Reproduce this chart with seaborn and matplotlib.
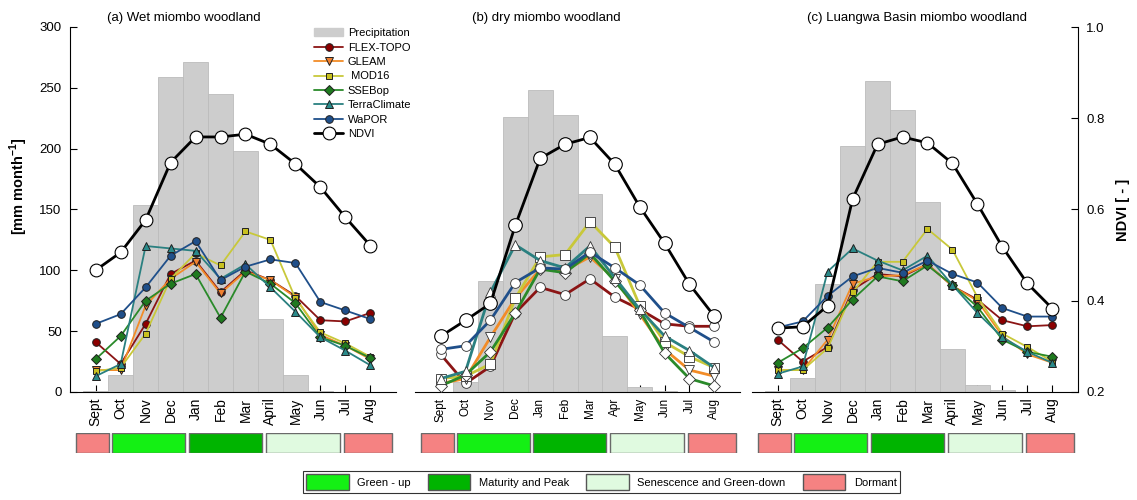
import numpy as np
import matplotlib
matplotlib.use("Agg")
import matplotlib.pyplot as plt
from matplotlib.patches import Patch, Rectangle
from matplotlib.lines import Line2D
import seaborn as sns

sns.set_theme(style="ticks")
plt.rcParams["font.family"] = ["Liberation Sans", "DejaVu Sans"]
plt.rcParams["mathtext.fontset"] = "custom"
plt.rcParams["mathtext.rm"] = "Liberation Sans"
plt.rcParams["mathtext.bf"] = "Liberation Sans:bold"
for key in ["text.color", "axes.labelcolor", "xtick.color", "ytick.color"]:
    plt.rcParams[key] = "black"

# ---------------------------------------------------------------- data
months_long = ["Sept", "Oct", "Nov", "Dec", "Jan", "Feb", "Mar", "April", "May", "Jun", "Jul", "Aug"]
months_short = ["Sept", "Oct", "Nov", "Dec", "Jan", "Feb", "Mar", "Apr", "May", "Jun", "Jul", "Aug"]

# monthly precipitation [mm month-1]
precip_wet = [1, 14, 154, 259, 271, 245, 198, 60, 14, 1, 0, 0]
precip_dry = [0, 8, 91, 226, 248, 228, 163, 46, 4, 0.5, 0, 0]
precip_lua = [1, 11.5, 88.5, 202, 256, 232, 156, 35, 6, 1.5, 0, 0]

# evaporation products [mm month-1]
flex_wet = [41, 23, 56, 97, 108, 82, 100, 92, 79, 59, 58, 65]
gleam_wet = [18, 18, 71, 93, 107, 81, 99, 92, 78, 47, 38, 27]
mod16_wet = [17, 20, 48, 93, 114, 104, 132, 125, 77, 49, 40, 29]
ssebop_wet = [27, 46, 75, 89, 97, 61, 99, 89, 73, 45, 38, 28]
terra_wet = [13, 23, 120, 118, 116, 93, 105, 86, 66, 45, 34, 22]
wapor_wet = [56, 64, 86, 112, 124, 92, 103, 109, 106, 74, 67, 60]

flex_dry = [31, 7, 21, 65, 86, 80, 93, 78, 68, 56, 54, 54]
gleam_dry = [7, 11, 45, 77, 101, 100, 111, 93, 64, 35, 18, 13]
mod16_dry = [11, 13, 23, 77, 111, 113, 140, 119, 71, 41, 29, 20]
ssebop_dry = [5, 14, 33, 65, 101, 98, 114, 91, 67, 32, 11, 5]
terra_dry = [11, 17, 82, 121, 108, 102, 120, 94, 68, 46, 34, 20]
wapor_dry = [35, 38, 59, 90, 102, 101, 115, 102, 88, 65, 53, 41]

flex_lua = [43, 25, 37, 84, 97, 95, 105, 87, 76, 59, 54, 55]
gleam_lua = [18, 18, 43, 89, 95, 96, 105, 87, 75, 46, 31, 24]
mod16_lua = [18, 18, 36, 82, 107, 107, 134, 117, 78, 48, 37, 25]
ssebop_lua = [24, 36, 53, 76, 95, 91, 104, 88, 70, 43, 33, 29]
terra_lua = [15, 21, 99, 118, 108, 100, 112, 88, 65, 45, 33, 24]
wapor_lua = [53, 58, 79, 95, 102, 98, 108, 97, 90, 69, 62, 62]

# NDVI [-]
ndvi_wet = [0.467, 0.506, 0.577, 0.703, 0.759, 0.759, 0.765, 0.743, 0.700, 0.649, 0.583, 0.521]
ndvi_dry = [0.322, 0.357, 0.394, 0.565, 0.712, 0.743, 0.758, 0.699, 0.606, 0.526, 0.436, 0.366]
ndvi_lua = [0.340, 0.343, 0.389, 0.623, 0.743, 0.759, 0.746, 0.701, 0.612, 0.518, 0.438, 0.383]

# phenological phases
phase_names = ["Dormant", "Green - up", "Maturity and Peak", "Senescence and Green-down", "Dormant"]
phase_spans = [(-0.80, 0.52), (0.64, 3.58), (3.73, 6.66), (6.82, 9.77), (9.93, 11.85)]
phase_colors = {"Green - up": "#14f014", "Maturity and Peak": "#00b400",
                "Senescence and Green-down": "#e0fae0", "Dormant": "#f58282"}

product_names = ["FLEX-TOPO", "GLEAM", " MOD16", "SSEBop", "TerraClimate", "WaPOR"]
product_markers = ["o", "v", "s", "D", "^", "o"]
line_colors = ["#8b1414", "#f28c28", "#c8c83a", "#2a8a2a", "#2a8080", "#1f4f8a"]
face_colors = ["#8b0000", "#f08030", "#c8c020", "#1f7a1f", "#2a8a8a", "#1f4f8a"]
marker_sizes = [5.5, 5.5, 5.0, 4.8, 5.5, 5.5]

panels = [
    dict(px=(70, 396), title="(a) Wet miombo woodland", tx=0.113, months=months_long,
         precip=precip_wet, ndvi=ndvi_wet, filled=True, tick_fs=10,
         et=[flex_wet, gleam_wet, mod16_wet, ssebop_wet, terra_wet, wapor_wet]),
    dict(px=(415, 740), title="(b) dry miombo woodland", tx=0.174, months=months_short,
         precip=precip_dry, ndvi=ndvi_dry, filled=False, tick_fs=8.5,
         et=[flex_dry, gleam_dry, mod16_dry, ssebop_dry, terra_dry, wapor_dry]),
    dict(px=(752, 1078), title="(c) Luangwa Basin miombo woodland", tx=0.168, months=months_long,
         precip=precip_lua, ndvi=ndvi_lua, filled=True, tick_fs=10,
         et=[flex_lua, gleam_lua, mod16_lua, ssebop_lua, terra_lua, wapor_lua]),
]

# ---------------------------------------------------------------- figure
W, H = 1137, 500
fig = plt.figure(figsize=(W / 100, H / 100), dpi=100)
TOP, BOTTOM = 27, 392
XLIM = (-1.03, 12.03)
x = np.arange(12)

for i, p in enumerate(panels):
    left, right = p["px"]
    rect = [left / W, 1 - BOTTOM / H, (right - left) / W, (BOTTOM - TOP) / H]
    ax = fig.add_axes(rect)

    sns.barplot(x=p["months"], y=p["precip"], ax=ax, color="#cdcdcd", width=1.0,
                edgecolor="#bcbcbc", linewidth=0.6, saturation=1, errorbar=None, zorder=1)

    for k in range(len(product_names)):
        if p["filled"]:
            sns.lineplot(x=x, y=p["et"][k], ax=ax, color=line_colors[k], lw=1.3,
                         marker=product_markers[k], markersize=marker_sizes[k],
                         markerfacecolor=face_colors[k], markeredgecolor="#202020",
                         markeredgewidth=0.7, zorder=3)
        else:
            sns.lineplot(x=x, y=p["et"][k], ax=ax, color=line_colors[k], lw=2.0,
                         marker=product_markers[k], markersize=marker_sizes[k] + 1.5,
                         markerfacecolor="white", markeredgecolor="#303030",
                         markeredgewidth=0.6, zorder=3)

    ax.set_xlim(*XLIM)
    ax.set_ylim(0, 300)
    ax.set_xticks(x)
    ax.set_xticklabels(p["months"], rotation=90, fontsize=p["tick_fs"])
    ax.set_xlabel("")
    ax.set_ylabel("")
    ax.tick_params(axis="x", direction="in", length=5, width=0.8, color="black", pad=4)
    for s in ["top", "right"]:
        ax.spines[s].set_visible(False)
    ax.spines["bottom"].set_color("black")
    ax.spines["bottom"].set_linewidth(0.8)
    if i == 0:
        ax.set_yticks(np.arange(0, 301, 50))
        ax.tick_params(axis="y", direction="in", length=5, width=0.8, color="black",
                       labelsize=9.5, pad=6)
        ax.spines["left"].set_color("black")
        ax.spines["left"].set_linewidth(0.8)
        ax.set_ylabel("[mm month$^{\\mathbf{-1}}$]", fontsize=10.5, fontweight="bold")
        ax.yaxis.set_label_coords(-0.123, 0.564)
    else:
        ax.spines["left"].set_visible(False)
        ax.set_yticks([])

    ax.text(p["tx"], 1.025, p["title"], transform=ax.transAxes, fontsize=9.5,
            ha="left", va="center")

    # NDVI on secondary axis
    ax2 = ax.twinx()
    sns.lineplot(x=x, y=p["ndvi"], ax=ax2, color="black", lw=2.0, marker="o",
                 markersize=9.2 if p["filled"] else 9.8, markerfacecolor="white",
                 markeredgecolor="black", markeredgewidth=0.8, zorder=4)
    ax2.set_xlim(*XLIM)
    ax2.set_ylim(0.2, 1.0)
    ax2.set_xlabel("")
    ax2.set_ylabel("")
    for s in ["top", "left", "bottom"]:
        ax2.spines[s].set_visible(False)
    if i == 2:
        ax2.set_yticks(np.arange(0.2, 1.01, 0.2))
        ax2.set_yticklabels([f"{v:.1f}" for v in np.arange(0.2, 1.01, 0.2)])
        ax2.tick_params(axis="y", direction="in", length=5, width=0.8, color="black",
                        labelsize=9.5, pad=6, right=True)
        ax2.spines["right"].set_color("black")
        ax2.spines["right"].set_linewidth(0.8)
        ax2.set_ylabel("NDVI [ - ]", fontsize=10.5, fontweight="bold")
        ax2.yaxis.set_label_coords(1.117, 0.5)
    else:
        ax2.spines["right"].set_visible(False)
        ax2.set_yticks([])

    if i == 0:
        handles = [Patch(facecolor="#cdcdcd", edgecolor="#cdcdcd", label="Precipitation")]
        for k, name in enumerate(product_names):
            handles.append(Line2D([], [], color=line_colors[k], lw=1.3, marker=product_markers[k],
                                  markersize=marker_sizes[k], markerfacecolor=face_colors[k],
                                  markeredgecolor="#202020", markeredgewidth=0.7, label=name))
        handles.append(Line2D([], [], color="black", lw=2.0, marker="o", markersize=9.2,
                              markerfacecolor="white", markeredgecolor="black",
                              markeredgewidth=0.8, label="NDVI"))
        ax2.legend(handles=handles, loc="upper left", bbox_to_anchor=(0.75, 0.997),
                   frameon=False, fontsize=8, handlelength=2.6, handletextpad=0.4,
                   labelspacing=0.4, borderpad=0, borderaxespad=0)

    # phenology strip
    axp = fig.add_axes([left / W, 1 - 453 / H, (right - left) / W, 20 / H])
    axp.set_xlim(*XLIM)
    axp.set_ylim(0, 1)
    axp.axis("off")
    for name, (x0, x1) in zip(phase_names, phase_spans):
        axp.add_patch(Rectangle((x0, 0), x1 - x0, 1, facecolor=phase_colors[name],
                                edgecolor="#6a6a6a", linewidth=1.0))

# phase legend
legend_names = ["Green - up", "Maturity and Peak", "Senescence and Green-down", "Dormant"]
phase_handles = [Patch(facecolor=phase_colors[n], edgecolor="#555555", label=n) for n in legend_names]
leg = fig.legend(handles=phase_handles, loc="center",
                 bbox_to_anchor=(303 / W, 1 - 497 / H, 597 / W, 30 / H), mode="expand",
                 ncol=4, frameon=True, fancybox=False, edgecolor="black", fontsize=8,
                 handlelength=3.8, handleheight=1.8, handletextpad=0.8, borderaxespad=0,
                 borderpad=0.3)
leg.get_frame().set_linewidth(0.8)

fig.savefig("out.png", dpi=100)
